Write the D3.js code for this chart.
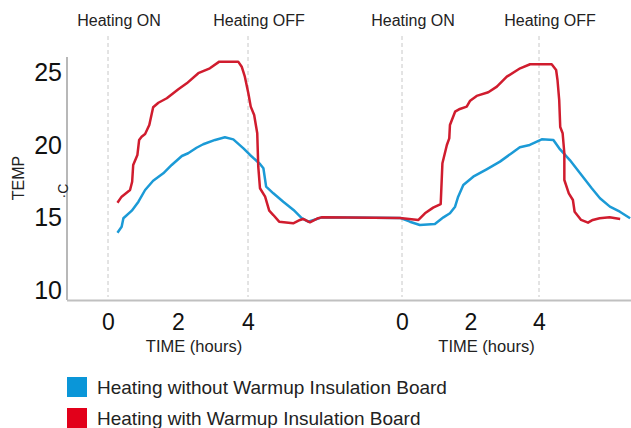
<!DOCTYPE html>
<html>
<head>
<meta charset="utf-8">
<script src="https://cdn.jsdelivr.net/npm/d3@7"></script>
<style>
  body { margin: 0; background: #fff; }
  svg { font-family: "Liberation Sans", Arial, sans-serif; }
</style>
</head>
<body>
<div id="chart"></div>
<script>
// hours since first heating ON, second cycle starts at 8.5h
const cycleStarts = [0, 8.5];
const cycleTicks = [0, 2, 4];
const switchLabels = ["Heating ON", "Heating OFF"];
const yTicks = [10, 15, 20, 25];

const seriesNames = ["Heating without Warmup Insulation Board", "Heating with Warmup Insulation Board"];
const seriesColors = ["#1b9ad6", "#d01c2e"];
const legendColors = ["#0a96d8", "#e2001a"];

const withoutBoard = [
  [0.27, 13.96], [0.39, 14.37], [0.44, 14.96], [0.68, 15.48], [0.87, 16.10],
  [1.06, 16.91], [1.29, 17.55], [1.58, 18.06], [1.82, 18.64], [2.11, 19.26],
  [2.29, 19.45], [2.53, 19.83], [2.72, 20.07], [3.06, 20.37], [3.34, 20.55],
  [3.58, 20.41], [3.87, 19.79], [4.06, 19.33], [4.35, 18.71], [4.45, 18.41],
  [4.53, 17.14], [4.74, 16.68], [5.03, 16.10], [5.33, 15.53], [5.57, 14.96],
  [5.76, 14.72], [6.01, 14.91], [6.15, 15.02], [8.44, 14.98], [8.73, 14.72],
  [9.02, 14.49], [9.46, 14.56], [9.71, 15.02], [9.90, 15.30], [10.05, 15.76],
  [10.14, 16.45], [10.29, 17.26], [10.58, 17.83], [10.97, 18.34], [11.36, 18.87],
  [11.70, 19.45], [11.94, 19.86], [12.23, 20.02], [12.58, 20.41], [12.92, 20.37],
  [13.09, 19.79], [13.40, 18.98], [13.70, 18.07], [14.04, 17.03], [14.28, 16.34],
  [14.57, 15.76], [14.86, 15.41], [15.16, 14.96]
];

const withBoard = [
  [0.27, 16.03], [0.39, 16.45], [0.63, 16.91], [0.69, 17.48], [0.72, 18.64],
  [0.84, 19.33], [0.89, 20.37], [0.96, 20.59], [1.06, 20.78], [1.18, 21.40],
  [1.29, 22.63], [1.44, 22.94], [1.68, 23.25], [2.01, 23.87], [2.25, 24.28],
  [2.58, 24.98], [2.91, 25.32], [3.18, 25.78], [3.72, 25.78], [3.82, 25.43],
  [3.91, 24.74], [4.01, 23.59], [4.08, 22.67], [4.18, 22.09], [4.27, 20.83],
  [4.30, 18.52], [4.35, 17.03], [4.50, 16.45], [4.62, 15.48], [4.74, 15.18],
  [4.91, 14.72], [5.32, 14.61], [5.52, 14.84], [5.61, 14.91], [5.81, 14.68],
  [6.05, 14.96], [6.15, 15.02], [8.44, 14.98], [8.98, 14.84], [9.17, 15.30],
  [9.41, 15.69], [9.63, 15.94], [9.68, 18.76], [9.81, 20.02], [9.88, 20.48],
  [9.90, 21.40], [10.05, 22.32], [10.19, 22.51], [10.39, 22.67], [10.49, 23.08],
  [10.68, 23.41], [11.02, 23.66], [11.27, 24.05], [11.56, 24.74], [11.95, 25.32],
  [12.24, 25.60], [12.87, 25.60], [13.00, 25.20], [13.04, 24.51], [13.09, 23.13],
  [13.12, 21.26], [13.19, 20.83], [13.24, 19.45], [13.24, 17.60], [13.37, 16.68],
  [13.49, 16.22], [13.54, 15.41], [13.73, 14.84], [13.93, 14.65], [14.07, 14.84],
  [14.27, 14.96], [14.56, 15.02], [14.87, 14.91]
];

const W = 631, H = 428;
const svg = d3.select("#chart").append("svg")
  .attr("width", W)
  .attr("height", H);

const axisY = 300, axisX = 67;

// piecewise x scale: the two heating cycles sit a little apart
const x = d3.scaleLinear()
  .domain([0, 4, 8.5, 12.5])
  .range([108, 248, 402, 539]);

const y = d3.scaleLinear()
  .domain([10, 26.1])
  .range([290, 57]);

// dashed switch lines + labels on top
const switches = [];
cycleStarts.forEach((s) => {
  switches.push({ t: s, label: switchLabels[0] });
  switches.push({ t: s + 4, label: switchLabels[1] });
});

svg.selectAll(".switch")
  .data(switches)
  .enter().append("line")
  .attr("class", "switch")
  .attr("x1", (d) => x(d.t))
  .attr("x2", (d) => x(d.t))
  .attr("y1", 36)
  .attr("y2", 297)
  .attr("stroke", "#c8c8c8")
  .attr("stroke-width", 1)
  .attr("stroke-dasharray", "4,3");

svg.selectAll(".switch-label")
  .data(switches)
  .enter().append("text")
  .attr("class", "switch-label")
  .attr("x", (d) => x(d.t) + 11)
  .attr("y", 26)
  .attr("text-anchor", "middle")
  .attr("font-size", 16)
  .attr("fill", "#222")
  .text((d) => d.label);

// Y axis
const yAxis = svg.append("g")
  .attr("transform", "translate(" + axisX + ",0)")
  .call(d3.axisLeft(y).tickValues(yTicks).tickSize(0).tickPadding(5));
yAxis.select(".domain").remove();
yAxis.selectAll("text")
  .attr("font-size", 25)
  .attr("font-family", "Liberation Sans, Arial, sans-serif")
  .attr("fill", "#111");

svg.append("line")
  .attr("x1", axisX).attr("x2", axisX)
  .attr("y1", 57).attr("y2", axisY)
  .attr("stroke", "#a0a0a0")
  .attr("stroke-width", 1.5);

// X axis
const xTickValues = [];
cycleStarts.forEach((s) => cycleTicks.forEach((t) => xTickValues.push(s + t)));

const xAxis = svg.append("g")
  .attr("transform", "translate(0," + axisY + ")")
  .call(d3.axisBottom(x)
    .tickValues(xTickValues)
    .tickSize(0)
    .tickPadding(14)
    .tickFormat((d) => d >= cycleStarts[1] ? d - cycleStarts[1] : d));
xAxis.select(".domain").remove();
xAxis.selectAll("text")
  .attr("font-size", 23)
  .attr("font-family", "Liberation Sans, Arial, sans-serif")
  .attr("fill", "#111");

svg.append("line")
  .attr("x1", axisX).attr("x2", W)
  .attr("y1", axisY + 0.5).attr("y2", axisY + 0.5)
  .attr("stroke", "#c0c0c0")
  .attr("stroke-width", 2);

// axis titles
svg.selectAll(".time-title")
  .data(cycleStarts)
  .enter().append("text")
  .attr("class", "time-title")
  .attr("x", (d) => x(d + 2) + 16)
  .attr("y", 352)
  .attr("text-anchor", "middle")
  .attr("font-size", 16.5)
  .attr("fill", "#222")
  .text("TIME (hours)");

svg.append("text")
  .attr("transform", "translate(24,178) rotate(-90)")
  .attr("text-anchor", "middle")
  .attr("font-size", 16)
  .attr("fill", "#222")
  .text("TEMP");

svg.append("text")
  .attr("transform", "translate(68,191) rotate(-90)")
  .attr("text-anchor", "middle")
  .attr("font-size", 14)
  .attr("fill", "#222")
  .text("·C");

// Lines
const line = d3.line()
  .x((d) => x(d[0]))
  .y((d) => y(d[1]));

svg.selectAll(".series")
  .data([withoutBoard, withBoard])
  .enter().append("path")
  .attr("class", "series")
  .attr("d", line)
  .attr("fill", "none")
  .attr("stroke", (d, i) => seriesColors[i])
  .attr("stroke-width", 2.5)
  .attr("stroke-linejoin", "round");

// Legend
const legend = svg.append("g").attr("class", "legend");

legend.selectAll("rect")
  .data(seriesNames)
  .enter().append("rect")
  .attr("x", 67)
  .attr("y", (d, i) => 377 + i * 31)
  .attr("width", 20)
  .attr("height", 20)
  .attr("fill", (d, i) => legendColors[i]);

legend.selectAll("text")
  .data(seriesNames)
  .enter().append("text")
  .attr("x", 97)
  .attr("y", (d, i) => 394 + i * 31)
  .attr("font-size", 19)
  .attr("fill", "#222")
  .text((d) => d);
</script>
</body>
</html>
